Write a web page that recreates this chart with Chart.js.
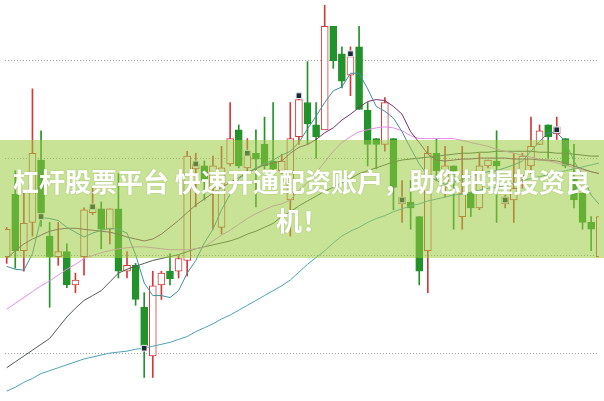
<!DOCTYPE html>
<html>
<head>
<meta charset="utf-8">
<script src="https://cdn.jsdelivr.net/npm/chart.js@4.4.0/dist/chart.umd.min.js"></script>
<style>
html,body{margin:0;padding:0;background:#fff;}
canvas{display:block;}
</style>
</head>
<body>
<canvas id="kline" width="604" height="401"></canvas>
<script>
// daily candles
var opens  = [10.99,11.63,11.05,11.34,11.98,11.20,10.99,11.04,10.70,10.99,11.44,11.48,11.27,11.48,10.84,10.90,10.47,9.97,10.70,10.84,10.84,10.95,11.89,11.92,11.70,11.29,11.94,12.29,11.90,12.05,12.14,11.97,11.87,11.57,12.22,12.57,12.34,12.29,13.35,13.07,12.85,13.14,12.49,12.20,12.14,12.20,11.53,11.55,11.40,11.05,12.05,11.70,11.92,11.40,11.65,11.49,11.92,11.97,11.53,11.57,11.82,11.92,12.14,12.34,12.25,12.20,11.80,11.64,11.34,10.99];
var highs  = [11.29,11.87,11.65,12.71,12.28,11.34,11.34,11.12,10.82,11.49,11.69,11.55,11.48,11.84,11.04,10.92,10.62,10.84,10.84,11.02,11.00,12.07,12.05,11.97,12.02,12.12,12.57,12.34,12.20,12.29,12.42,12.57,12.04,12.57,12.67,12.99,12.57,13.60,13.35,13.14,13.14,13.35,12.57,12.20,12.62,12.20,11.77,11.77,11.40,12.12,12.20,12.12,11.92,12.12,11.65,12.05,11.98,12.28,11.62,12.05,12.05,12.42,12.34,12.34,12.42,12.20,12.14,11.64,11.40,11.40];
var lows   = [10.92,10.87,10.84,11.20,11.30,10.47,10.90,10.67,10.62,10.80,11.42,11.07,11.12,10.77,10.77,10.49,9.75,9.75,10.55,10.70,10.77,10.79,11.50,11.57,11.27,11.22,11.92,11.90,11.85,11.50,11.89,11.87,11.84,11.20,12.14,12.14,12.00,12.29,12.92,12.72,12.64,12.50,11.92,11.89,12.07,11.47,11.34,11.27,10.70,10.62,11.77,11.60,11.27,11.27,11.40,11.47,11.90,11.34,11.49,11.34,11.69,11.84,12.14,12.00,12.19,11.90,11.49,11.27,11.05,10.97];
var closes = [11.27,11.05,11.33,12.05,11.44,10.99,11.04,10.70,10.75,11.47,11.50,11.27,11.48,10.84,10.90,10.55,10.07,10.69,10.82,10.76,10.97,12.02,11.94,11.77,11.92,11.90,12.20,11.92,12.07,11.99,11.92,11.89,11.97,12.20,12.60,12.35,12.22,13.35,13.00,12.79,13.04,12.50,12.14,12.14,12.57,11.70,11.60,11.49,10.84,12.05,11.87,11.92,11.87,11.64,11.49,11.92,11.98,11.92,11.60,11.69,12.02,12.12,12.28,12.22,12.32,11.92,11.57,11.34,11.27,11.40];

// moving averages
var ma5   = [10.89,10.86,10.85,11.02,11.39,11.38,11.36,11.29,11.24,11.19,11.23,11.26,11.28,11.27,11.23,11.01,10.72,10.59,10.59,10.57,10.64,10.82,10.95,11.13,11.27,11.47,11.63,11.79,11.85,11.90,11.94,11.98,12.03,12.07,12.16,12.30,12.43,12.57,12.69,12.73,12.87,12.87,12.71,12.53,12.48,12.41,12.27,12.10,11.94,11.82,11.77,11.73,11.75,11.78,11.81,11.84,11.86,11.87,11.90,11.93,11.97,12.07,12.17,12.26,12.26,12.17,11.97,11.82,11.62,11.52];
var ma10  = [10.97,11.05,11.12,11.17,11.21,11.25,11.27,11.28,11.28,11.27,11.26,11.25,11.24,11.22,11.19,11.17,11.15,11.17,11.22,11.29,11.36,11.44,11.52,11.58,11.64,11.70,11.75,11.80,11.85,11.89,11.93,11.95,11.97,12.05,12.11,12.14,12.19,12.26,12.31,12.39,12.45,12.52,12.58,12.60,12.59,12.53,12.45,12.27,12.16,12.04,11.98,11.97,11.98,11.99,11.99,12.00,12.00,12.00,12.00,11.99,11.99,11.99,11.98,11.98,11.97,11.95,11.92,11.89,11.86,11.84];
var ma30  = [10.45,10.51,10.57,10.63,10.69,10.74,10.80,10.86,10.91,10.97,11.00,11.03,11.05,11.07,11.08,11.09,11.09,11.08,11.07,11.06,11.06,11.06,11.07,11.09,11.15,11.21,11.26,11.32,11.38,11.43,11.47,11.51,11.53,11.57,11.67,11.75,11.85,11.96,12.07,12.16,12.22,12.27,12.29,12.31,12.32,12.31,12.28,12.23,12.20,12.20,12.20,12.20,12.20,12.18,12.16,12.14,12.12,12.09,12.07,12.05,12.03,12.01,11.99,11.97,11.95,11.93,11.90,11.88,11.86,11.84];
var ma60  = [9.85,9.91,9.97,10.03,10.09,10.15,10.26,10.37,10.46,10.54,10.59,10.64,10.73,10.82,10.86,10.89,10.92,10.95,10.97,10.99,11.01,11.04,11.07,11.09,11.11,11.13,11.15,11.18,11.22,11.25,11.29,11.33,11.40,11.45,11.51,11.56,11.61,11.66,11.70,11.75,11.79,11.84,11.87,11.90,11.93,11.96,11.98,11.99,12.00,12.01,12.02,12.03,12.04,12.05,12.05,12.06,12.06,12.07,12.07,12.07,12.07,12.07,12.06,12.06,12.05,12.05,12.04,12.03,12.02,12.02];
var ma120 = [9.61,9.65,9.70,9.74,9.79,9.82,9.85,9.88,9.91,9.94,9.96,9.98,10.00,10.01,10.02,10.04,10.05,10.07,10.09,10.11,10.14,10.17,10.22,10.26,10.30,10.35,10.39,10.44,10.49,10.54,10.59,10.64,10.69,10.75,10.83,10.91,10.98,11.05,11.13,11.20,11.25,11.29,11.34,11.38,11.41,11.45,11.48,11.51,11.53,11.56,11.58,11.60,11.62,11.63,11.65,11.67,11.69,11.70,11.72,11.74,11.77,11.79,11.81,11.83,11.85,11.87,11.89,11.91,11.93,11.95];

// signal boxes
var markIdx = [4,10,16,22,28,34,40,46,58,64];
var markVal = [11.40,11.50,10.05,11.94,12.05,12.64,13.07,11.57,11.57,12.29];

var gridTicks = [10,11,12,13];
var bannerLines = ['杠杆股票平台 快速开通配资账户，助您把握投资良', '机！'];

var RED = '#d23a3a';
var GREEN = '#22922a';

var idx = opens.map(function(v, i){ return i; });
var isUp = idx.map(function(i){ return closes[i] >= opens[i]; });

var wickData = idx.map(function(i){ return {x: i, y: [lows[i], highs[i]]}; });
var bodyData = idx.map(function(i){
    return {x: i, y: [Math.min(opens[i], closes[i]), Math.max(opens[i], closes[i])]};
});
var markData = markIdx.map(function(i, k){ return {x: i, y: markVal[k]}; });

function lineSet(vals, color, ord) {
    return {
        type: 'line',
        data: idx.map(function(i){ return {x: i, y: vals[i]}; }),
        borderColor: color,
        borderWidth: 1,
        pointRadius: 0,
        tension: 0,
        fill: false,
        order: ord
    };
}

var bannerPlugin = {
    id: 'banner',
    afterDraw: function(chart) {
        var c = chart.ctx;
        c.save();
        c.fillStyle = 'rgba(155,202,64,0.55)';
        c.fillRect(0, 140, chart.width, 118);
        c.fillStyle = '#fff';
        c.font = 'bold 26px "Noto Sans CJK SC"';
        c.textAlign = 'center';
        c.textBaseline = 'middle';
        c.shadowColor = 'rgba(0,0,0,0.15)';
        c.shadowBlur = 2;
        c.fillText(bannerLines[0], 302, 182);
        c.fillText(bannerLines[1], 302, 221);
        c.restore();
    }
};

var ctx = document.getElementById('kline').getContext('2d');
var chart = new Chart(ctx, {
    type: 'bar',
    data: {
        datasets: [
            {
                type: 'scatter',
                data: markData,
                pointStyle: 'rect',
                pointRadius: 4,
                backgroundColor: '#1c2a38',
                borderColor: '#e8eef4',
                borderWidth: 1,
                order: 0
            },
            lineSet(ma5, '#3f8e9e', 1),
            lineSet(ma10, '#7d2f6e', 1),
            lineSet(ma30, '#e58be8', 1),
            lineSet(ma60, '#505a50', 1),
            lineSet(ma120, '#4da3b3', 1),
            {
                data: bodyData,
                backgroundColor: isUp.map(function(u){ return u ? '#fff' : GREEN; }),
                borderColor: isUp.map(function(u){ return u ? RED : GREEN; }),
                borderWidth: 1,
                borderSkipped: false,
                barThickness: 7,
                grouped: false,
                order: 2
            },
            {
                data: wickData,
                backgroundColor: isUp.map(function(u){ return u ? RED : GREEN; }),
                borderWidth: 0,
                barThickness: 1,
                grouped: false,
                order: 3
            }
        ]
    },
    options: {
        responsive: false,
        animation: false,
        layout: { padding: 0 },
        plugins: { legend: { display: false }, tooltip: { enabled: false } },
        scales: {
            x: {
                type: 'linear',
                display: false,
                offset: false,
                min: -0.1945,
                max: 68.914,
                grid: { display: false, offset: false }
            },
            y: {
                type: 'linear',
                min: 9.56,
                max: 13.57,
                afterBuildTicks: function(scale) {
                    scale.ticks = gridTicks.map(function(v){ return {value: v}; });
                },
                ticks: { display: false },
                grid: { color: '#a0a0a0', lineWidth: 1, drawTicks: false },
                border: { display: false, dash: [1, 2] }
            }
        }
    },
    plugins: [bannerPlugin]
});
</script>
</body>
</html>
